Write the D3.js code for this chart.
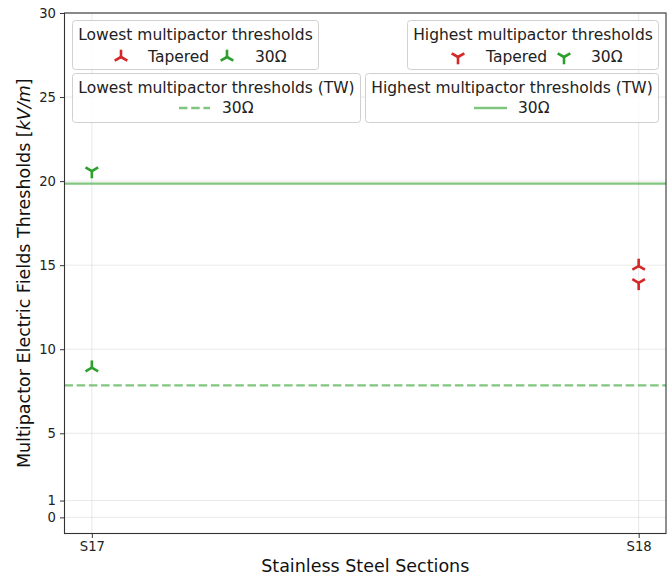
<!DOCTYPE html>
<html><head><meta charset="utf-8">
<script src="https://cdn.jsdelivr.net/npm/d3@7"></script>
<style>body{margin:0;background:#fff}svg{font-family:"DejaVu Sans",sans-serif}</style>
</head><body>
<svg id="c" width="671" height="579"></svg>
<script>
const sections = ["S17", "S18"];
const yTicks = [0, 1, 5, 10, 15, 20, 25, 30];
// point series: [section, value]
const lowestTapered = [["S18", 14.95]];
const lowest30 = [["S17", 8.9]];
const highestTapered = [["S18", 13.95]];
const highest30 = [["S17", 20.6]];
const lowestTW30 = 7.85;
const highestTW30 = 19.85;

const W = 671, H = 579;
const m = {l: 64.5, r: 666, t: 13, b: 533.5};
const svg = d3.select("#c");
const x = d3.scaleLinear().domain([-0.05, 1.05]).range([m.l, m.r]);
const y = d3.scaleLinear().domain([-0.96, 30]).range([m.b, m.t]);
const xi = s => x(sections.indexOf(s));
const red = "#d62728", green = "#2ca02c", lgreen = "#2ca02c";

// grid
const g = svg.append("g");
g.selectAll(".gy").data(yTicks).join("line").attr("x1", m.l).attr("x2", m.r)
  .attr("y1", d => y(d)).attr("y2", d => y(d)).attr("stroke", "#b0b0b0").attr("stroke-opacity", 0.35).attr("stroke-width", 0.8);
g.selectAll(".gx").data(sections).join("line").attr("y1", m.t).attr("y2", m.b)
  .attr("x1", d => xi(d)).attr("x2", d => xi(d)).attr("stroke", "#b0b0b0").attr("stroke-opacity", 0.35).attr("stroke-width", 0.8);

// TW lines
svg.append("line").attr("x1", m.l).attr("x2", m.r).attr("y1", y(highestTW30)).attr("y2", y(highestTW30))
  .attr("stroke", lgreen).attr("stroke-opacity", 0.6).attr("stroke-width", 2.3);
svg.append("line").attr("x1", m.l).attr("x2", m.r).attr("y1", y(lowestTW30)).attr("y2", y(lowestTW30))
  .attr("stroke", lgreen).attr("stroke-opacity", 0.6).attr("stroke-width", 2.3).attr("stroke-dasharray", "8.5,3.7");

// markers
function tri(sel, cx, cy, up, color, s) {
  s = s || 7.3;
  const gg = sel.append("g").attr("transform", `translate(${cx},${cy})`);
  const arms = up ? [[0, -s], [-s * 0.866, s * 0.5], [s * 0.866, s * 0.5]] : [[0, s], [-s * 0.866, -s * 0.5], [s * 0.866, -s * 0.5]];
  arms.forEach(a => gg.append("line").attr("x1", 0).attr("y1", 0).attr("x2", a[0]).attr("y2", a[1])
    .attr("stroke", color).attr("stroke-width", 2.6).attr("stroke-linecap", "butt"));
}
const pts = svg.append("g");
lowestTapered.forEach(d => tri(pts, xi(d[0]), y(d[1]), true, red));
lowest30.forEach(d => tri(pts, xi(d[0]), y(d[1]), true, green));
highestTapered.forEach(d => tri(pts, xi(d[0]), y(d[1]), false, red));
highest30.forEach(d => tri(pts, xi(d[0]), y(d[1]), false, green));

// axes
const ax = svg.append("g").attr("transform", `translate(${m.l},0)`)
  .call(d3.axisLeft(y).tickValues(yTicks).tickSize(4.5).tickPadding(4));
const bx = svg.append("g").attr("transform", `translate(0,${m.b})`)
  .call(d3.axisBottom(x).tickValues([0, 1]).tickFormat(i => sections[i]).tickSize(4.5).tickPadding(4));
[ax, bx].forEach(a => {
  a.selectAll("text").attr("font-size", 13.2).attr("fill", "#222").attr("font-family", "DejaVu Sans");
  a.selectAll("line").attr("stroke", "#333").attr("stroke-width", 1);
  a.select(".domain").remove();
});
svg.append("rect").attr("x", m.l).attr("y", m.t).attr("width", m.r - m.l).attr("height", m.b - m.t)
  .attr("fill", "none").attr("stroke", "#333").attr("stroke-width", 1.1);

// axis labels
svg.append("text").attr("x", (m.l + m.r) / 2).attr("y", 572).attr("text-anchor", "middle")
  .attr("font-size", 17.5).attr("fill", "#111").text("Stainless Steel Sections");
const yl = svg.append("text").attr("transform", `translate(30,${(m.t + m.b) / 2}) rotate(-90)`)
  .attr("text-anchor", "middle").attr("font-size", 17.5).attr("fill", "#111");
yl.append("tspan").text("Multipactor Electric Fields Thresholds [");
yl.append("tspan").attr("font-style", "italic").text("kV/m");
yl.append("tspan").text("]");

// legends
function legendBox(x0, y0, w, h, title) {
  const lg = svg.append("g");
  lg.append("rect").attr("x", x0).attr("y", y0).attr("width", w).attr("height", h).attr("rx", 3)
    .attr("fill", "#fff").attr("fill-opacity", 0.8).attr("stroke", "#d0d0d0").attr("stroke-width", 1);
  lg.append("text").attr("x", x0 + w / 2).attr("y", y0 + 19).attr("text-anchor", "middle")
    .attr("font-size", 15.5).attr("fill", "#222").text(title);
  return lg;
}
function label(lg, tx, ty, t) {
  lg.append("text").attr("x", tx).attr("y", ty).attr("font-size", 15.5).attr("fill", "#222").text(t);
}
let lg = legendBox(72.5, 20.5, 246, 49, "Lowest multipactor thresholds");
tri(lg, 121, 57, true, red); label(lg, 148, 62, "Tapered");
tri(lg, 227, 57, true, green); label(lg, 255, 62, "30Ω");

lg = legendBox(72.5, 73.5, 288, 49, "Lowest multipactor thresholds (TW)");
lg.append("line").attr("x1", 179).attr("x2", 210).attr("y1", 108).attr("y2", 108)
  .attr("stroke", lgreen).attr("stroke-opacity", 0.6).attr("stroke-width", 2.3).attr("stroke-dasharray", "8.5,3.7");
label(lg, 222, 113, "30Ω");

lg = legendBox(407.5, 20.5, 251, 49, "Highest multipactor thresholds");
tri(lg, 458, 57, false, red); label(lg, 486, 62, "Tapered");
tri(lg, 564, 57, false, green); label(lg, 591, 62, "30Ω");

lg = legendBox(365.5, 73.5, 293, 49, "Highest multipactor thresholds (TW)");
lg.append("line").attr("x1", 474).attr("x2", 507).attr("y1", 108).attr("y2", 108)
  .attr("stroke", lgreen).attr("stroke-opacity", 0.6).attr("stroke-width", 2.3);
label(lg, 518, 113, "30Ω");
</script>
</body></html>
